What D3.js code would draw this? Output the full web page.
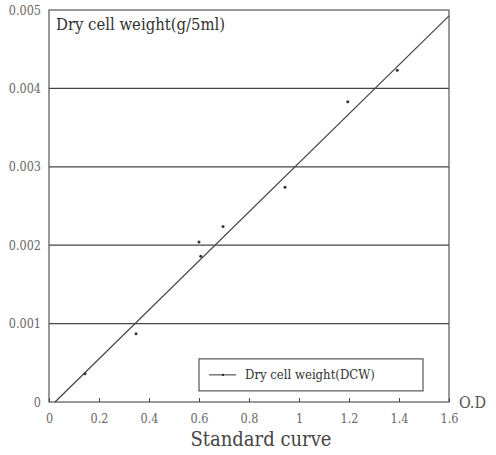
<!DOCTYPE html>
<html>
<head>
<meta charset="utf-8">
<script src="https://cdn.jsdelivr.net/npm/d3@7"></script>
<style>
  body { margin: 0; background: #fff; }
  svg text { font-stretch: condensed; }
</style>
</head>
<body>
<svg width="496" height="455"></svg>
<script>
// Data
const odValues  = [0.144, 0.348, 0.600, 0.607, 0.696, 0.944, 1.195, 1.393];
const dcwValues = [0.00036, 0.00087, 0.00204, 0.00186, 0.00224, 0.00274, 0.00383, 0.00423];
const fitLine   = [[0.024, 0], [1.6, 0.004925]];
const xTicks = [0, 0.2, 0.4, 0.6, 0.8, 1, 1.2, 1.4, 1.6];
const yTicks = [0, 0.001, 0.002, 0.003, 0.004, 0.005];

const serif = "'DejaVu Serif Condensed', 'DejaVu Serif', serif";

const margin = { top: 10, right: 47, bottom: 53, left: 49 };
const width = 496 - margin.left - margin.right;
const height = 455 - margin.top - margin.bottom;

const svg = d3.select("svg")
  .append("g")
  .attr("font-family", serif)
  .attr("transform", `translate(${margin.left},${margin.top})`);

const x = d3.scaleLinear().domain([0, 1.6]).range([0, width]);
const y = d3.scaleLinear().domain([0, 0.005]).range([height, 0]);

// Horizontal grid lines
svg.append("g")
  .selectAll("line")
  .data(yTicks.slice(1, -1))
  .join("line")
  .attr("x1", 0).attr("x2", width)
  .attr("y1", d => y(d)).attr("y2", d => y(d))
  .attr("stroke", "#444")
  .attr("stroke-width", 1.2);

// Frame
svg.append("rect")
  .attr("width", width).attr("height", height)
  .attr("fill", "none")
  .attr("stroke", "#555")
  .attr("stroke-width", 1.2);

// X axis: inward ticks
const gx = svg.append("g")
  .attr("transform", `translate(0,${height})`)
  .call(d3.axisBottom(x).tickValues(xTicks).tickSize(-4).tickPadding(12)
    .tickFormat(d => d3.format("")(d)));
gx.attr("font-family", serif);
gx.select(".domain").remove();
gx.selectAll("line").attr("stroke", "#444");
gx.selectAll("text").attr("font-size", 12.5).attr("fill", "#666");

// Y axis
const gy = svg.append("g")
  .call(d3.axisLeft(y).tickValues(yTicks).tickSize(0).tickPadding(8)
    .tickFormat(d => d === 0 ? "0" : d3.format(".3f")(d)));
gy.attr("font-family", serif);
gy.select(".domain").remove();
gy.selectAll("text").attr("font-size", 12.5).attr("fill", "#666");

// Fitted line
svg.append("path")
  .datum(fitLine)
  .attr("fill", "none")
  .attr("stroke", "#444")
  .attr("stroke-width", 1.2)
  .attr("d", d3.line().x(d => x(d[0])).y(d => y(d[1])));

// Data points
svg.append("g")
  .selectAll("circle")
  .data(odValues)
  .join("circle")
  .attr("cx", d => x(d))
  .attr("cy", (d, i) => y(dcwValues[i]))
  .attr("r", 1.5)
  .attr("fill", "#333");

// Inner title
svg.append("text")
  .attr("x", 7).attr("y", 20)
  .attr("font-size", 16.5)
  .attr("fill", "#333")
  .text("Dry cell weight(g/5ml)");

// Legend
const lg = svg.append("g").attr("transform", `translate(${x(0.6)},${y(0.00055)})`);
lg.append("rect")
  .attr("width", 224).attr("height", 32)
  .attr("fill", "#fff")
  .attr("stroke", "#555")
  .attr("stroke-width", 1.2);
lg.append("line")
  .attr("x1", 10).attr("x2", 37).attr("y1", 16).attr("y2", 16)
  .attr("stroke", "#333");
lg.append("circle").attr("cx", 24).attr("cy", 16).attr("r", 1.2).attr("fill", "#333");
lg.append("text")
  .attr("x", 46).attr("y", 20.5)
  .attr("font-size", 13)
  .attr("fill", "#333")
  .text("Dry cell weight(DCW)");

// Axis titles
svg.append("text")
  .attr("x", width + 10).attr("y", height + 6)
  .attr("font-size", 16)
  .attr("fill", "#555")
  .text("O.D");

svg.append("text")
  .attr("x", width / 2 + 12).attr("y", height + 44)
  .attr("text-anchor", "middle")
  .attr("font-size", 20)
  .attr("fill", "#444")
  .text("Standard curve");
</script>
</body>
</html>
